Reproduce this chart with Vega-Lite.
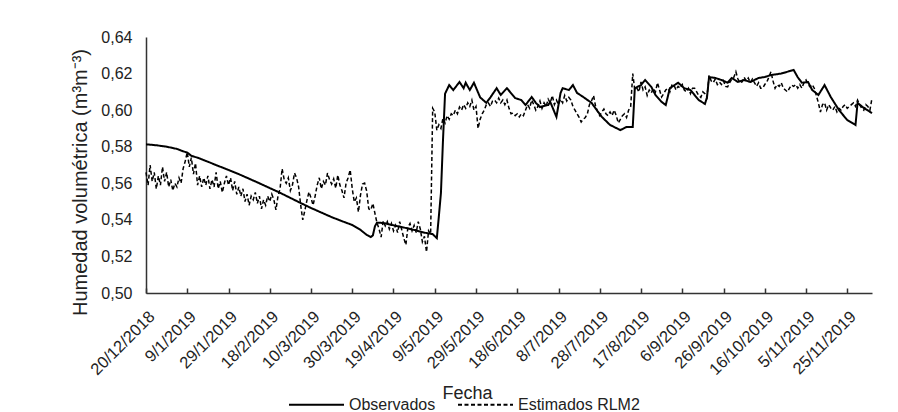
{
  "$schema": "https://vega.github.io/schema/vega-lite/v6.json",
  "width": 726,
  "height": 256,
  "autosize": {"type": "none"},
  "padding": {"left": 146, "top": 37, "right": 26, "bottom": 119},
  "background": "white",
  "config": {"view": {"stroke": null}, "font": "Liberation Sans", "axis": {"labelColor": "#222222", "titleColor": "#222222"}, "legend": {"labelColor": "#222222"}},
  "datasets": {
    "obs": [
      {"date":"2018-12-20","value":0.5813},{"date":"2018-12-25","value":0.5808},{"date":"2018-12-30","value":0.5800},
      {"date":"2019-01-04","value":0.5788},{"date":"2019-01-07","value":0.5775},{"date":"2019-01-09","value":0.5768},
      {"date":"2019-01-11","value":0.5750},{"date":"2019-01-14","value":0.5740},{"date":"2019-01-19","value":0.5718},
      {"date":"2019-01-24","value":0.5695},{"date":"2019-01-29","value":0.5673},{"date":"2019-02-03","value":0.5650},
      {"date":"2019-02-08","value":0.5625},{"date":"2019-02-13","value":0.5600},{"date":"2019-02-18","value":0.5574},
      {"date":"2019-02-23","value":0.5548},{"date":"2019-02-28","value":0.5520},{"date":"2019-03-05","value":0.5492},
      {"date":"2019-03-10","value":0.5465},{"date":"2019-03-15","value":0.5440},{"date":"2019-03-20","value":0.5415},
      {"date":"2019-03-25","value":0.5393},{"date":"2019-03-30","value":0.5372},{"date":"2019-04-03","value":0.5345},
      {"date":"2019-04-06","value":0.5318},{"date":"2019-04-08","value":0.5306},{"date":"2019-04-09","value":0.5315},
      {"date":"2019-04-10","value":0.5365},{"date":"2019-04-11","value":0.5385},{"date":"2019-04-14","value":0.5383},
      {"date":"2019-04-19","value":0.5370},{"date":"2019-04-24","value":0.5358},{"date":"2019-04-29","value":0.5345},
      {"date":"2019-05-04","value":0.5330},{"date":"2019-05-08","value":0.5322},{"date":"2019-05-10","value":0.5300},
      {"date":"2019-05-11","value":0.5420},{"date":"2019-05-12","value":0.5547},{"date":"2019-05-13","value":0.5837},
      {"date":"2019-05-14","value":0.6090},{"date":"2019-05-16","value":0.6137},{"date":"2019-05-18","value":0.6110},
      {"date":"2019-05-21","value":0.6154},{"date":"2019-05-23","value":0.6120},{"date":"2019-05-24","value":0.6150},
      {"date":"2019-05-26","value":0.6110},{"date":"2019-05-28","value":0.6150},{"date":"2019-05-31","value":0.6070},
      {"date":"2019-06-03","value":0.6040},{"date":"2019-06-05","value":0.6070},{"date":"2019-06-08","value":0.6120},
      {"date":"2019-06-10","value":0.6083},{"date":"2019-06-13","value":0.6120},{"date":"2019-06-17","value":0.6066},
      {"date":"2019-06-20","value":0.6055},{"date":"2019-06-22","value":0.6028},{"date":"2019-06-25","value":0.6072},
      {"date":"2019-06-27","value":0.6040},{"date":"2019-06-29","value":0.6017},{"date":"2019-07-03","value":0.6028},
      {"date":"2019-07-04","value":0.6045},{"date":"2019-07-07","value":0.5963},{"date":"2019-07-09","value":0.6094},
      {"date":"2019-07-10","value":0.6120},{"date":"2019-07-13","value":0.6110},{"date":"2019-07-15","value":0.6137},
      {"date":"2019-07-17","value":0.6094},{"date":"2019-07-20","value":0.6072},{"date":"2019-07-24","value":0.6040},
      {"date":"2019-07-29","value":0.5963},{"date":"2019-08-02","value":0.5919},{"date":"2019-08-07","value":0.5891},
      {"date":"2019-08-10","value":0.5908},{"date":"2019-08-13","value":0.5908},{"date":"2019-08-14","value":0.6120},
      {"date":"2019-08-17","value":0.6137},{"date":"2019-08-19","value":0.6165},{"date":"2019-08-22","value":0.6127},
      {"date":"2019-08-24","value":0.6083},{"date":"2019-08-27","value":0.6045},{"date":"2019-08-29","value":0.6028},
      {"date":"2019-08-31","value":0.6120},{"date":"2019-09-04","value":0.6150},{"date":"2019-09-07","value":0.6120},
      {"date":"2019-09-10","value":0.6110},{"date":"2019-09-14","value":0.6055},{"date":"2019-09-17","value":0.6034},
      {"date":"2019-09-18","value":0.6070},{"date":"2019-09-19","value":0.6181},{"date":"2019-09-22","value":0.6176},
      {"date":"2019-09-25","value":0.6165},{"date":"2019-09-28","value":0.6150},{"date":"2019-09-30","value":0.6176},
      {"date":"2019-10-03","value":0.6154},{"date":"2019-10-06","value":0.6165},{"date":"2019-10-09","value":0.6154},
      {"date":"2019-10-13","value":0.6176},{"date":"2019-10-16","value":0.6181},{"date":"2019-10-19","value":0.6192},
      {"date":"2019-10-24","value":0.6200},{"date":"2019-10-30","value":0.6220},{"date":"2019-11-01","value":0.6180},
      {"date":"2019-11-03","value":0.6150},{"date":"2019-11-06","value":0.6154},{"date":"2019-11-08","value":0.6110},
      {"date":"2019-11-11","value":0.6083},{"date":"2019-11-14","value":0.6137},{"date":"2019-11-17","value":0.6072},
      {"date":"2019-11-21","value":0.6000},{"date":"2019-11-25","value":0.5946},{"date":"2019-11-29","value":0.5919},
      {"date":"2019-11-30","value":0.6040},{"date":"2019-12-03","value":0.6012},{"date":"2019-12-07","value":0.5984}
    ],
    "est": [
      {"date":"2018-12-20","value":0.566},{"date":"2018-12-21","value":0.559},{"date":"2018-12-22","value":0.570},{"date":"2018-12-23","value":0.561},{"date":"2018-12-24","value":0.566},{"date":"2018-12-25","value":0.557},{"date":"2018-12-26","value":0.564},{"date":"2018-12-27","value":0.559},{"date":"2018-12-28","value":0.569},{"date":"2018-12-29","value":0.561},{"date":"2018-12-30","value":0.566},{"date":"2018-12-31","value":0.558},
      {"date":"2019-01-01","value":0.562},{"date":"2019-01-02","value":0.556},{"date":"2019-01-03","value":0.560},{"date":"2019-01-04","value":0.558},{"date":"2019-01-05","value":0.563},{"date":"2019-01-06","value":0.560},{"date":"2019-01-07","value":0.568},{"date":"2019-01-08","value":0.572},{"date":"2019-01-09","value":0.577},{"date":"2019-01-10","value":0.569},{"date":"2019-01-11","value":0.574},{"date":"2019-01-12","value":0.565},{"date":"2019-01-13","value":0.571},{"date":"2019-01-14","value":0.559},{"date":"2019-01-15","value":0.564},{"date":"2019-01-16","value":0.558},{"date":"2019-01-17","value":0.563},{"date":"2019-01-18","value":0.559},{"date":"2019-01-19","value":0.564},{"date":"2019-01-20","value":0.557},{"date":"2019-01-21","value":0.562},{"date":"2019-01-22","value":0.558},{"date":"2019-01-23","value":0.566},{"date":"2019-01-24","value":0.557},{"date":"2019-01-25","value":0.561},{"date":"2019-01-26","value":0.555},{"date":"2019-01-27","value":0.560},{"date":"2019-01-28","value":0.564},{"date":"2019-01-29","value":0.559},{"date":"2019-01-30","value":0.563},{"date":"2019-01-31","value":0.556},
      {"date":"2019-02-01","value":0.561},{"date":"2019-02-02","value":0.554},{"date":"2019-02-03","value":0.558},{"date":"2019-02-04","value":0.553},{"date":"2019-02-05","value":0.557},{"date":"2019-02-06","value":0.550},{"date":"2019-02-07","value":0.554},{"date":"2019-02-08","value":0.548},{"date":"2019-02-09","value":0.553},{"date":"2019-02-10","value":0.551},{"date":"2019-02-11","value":0.555},{"date":"2019-02-12","value":0.549},{"date":"2019-02-13","value":0.553},{"date":"2019-02-14","value":0.546},{"date":"2019-02-15","value":0.551},{"date":"2019-02-16","value":0.548},{"date":"2019-02-17","value":0.553},{"date":"2019-02-18","value":0.550},{"date":"2019-02-19","value":0.554},{"date":"2019-02-20","value":0.551},{"date":"2019-02-21","value":0.5455},{"date":"2019-02-22","value":0.553},{"date":"2019-02-23","value":0.557},{"date":"2019-02-24","value":0.568},{"date":"2019-02-25","value":0.562},{"date":"2019-02-26","value":0.560},{"date":"2019-02-27","value":0.563},{"date":"2019-02-28","value":0.556},
      {"date":"2019-03-01","value":0.559},{"date":"2019-03-02","value":0.5656},{"date":"2019-03-03","value":0.563},{"date":"2019-03-04","value":0.558},{"date":"2019-03-05","value":0.548},{"date":"2019-03-06","value":0.540},{"date":"2019-03-07","value":0.545},{"date":"2019-03-08","value":0.5505},{"date":"2019-03-09","value":0.5552},{"date":"2019-03-10","value":0.552},{"date":"2019-03-11","value":0.548},{"date":"2019-03-12","value":0.553},{"date":"2019-03-13","value":0.559},{"date":"2019-03-14","value":0.563},{"date":"2019-03-15","value":0.557},{"date":"2019-03-16","value":0.561},{"date":"2019-03-17","value":0.559},{"date":"2019-03-18","value":0.5656},{"date":"2019-03-19","value":0.562},{"date":"2019-03-20","value":0.5596},{"date":"2019-03-21","value":0.5624},{"date":"2019-03-22","value":0.5573},{"date":"2019-03-23","value":0.5645},{"date":"2019-03-24","value":0.559},{"date":"2019-03-25","value":0.556},{"date":"2019-03-26","value":0.552},{"date":"2019-03-27","value":0.560},{"date":"2019-03-28","value":0.563},{"date":"2019-03-29","value":0.5673},{"date":"2019-03-30","value":0.557},{"date":"2019-03-31","value":0.5498},
      {"date":"2019-04-01","value":0.552},{"date":"2019-04-02","value":0.5443},{"date":"2019-04-03","value":0.5536},{"date":"2019-04-04","value":0.5596},{"date":"2019-04-05","value":0.5601},{"date":"2019-04-06","value":0.5557},{"date":"2019-04-07","value":0.546},{"date":"2019-04-08","value":0.5454},{"date":"2019-04-09","value":0.549},{"date":"2019-04-10","value":0.5435},{"date":"2019-04-11","value":0.5383},{"date":"2019-04-12","value":0.535},{"date":"2019-04-13","value":0.5306},{"date":"2019-04-14","value":0.5394},{"date":"2019-04-15","value":0.5367},{"date":"2019-04-16","value":0.539},{"date":"2019-04-17","value":0.535},{"date":"2019-04-18","value":0.538},{"date":"2019-04-19","value":0.534},{"date":"2019-04-20","value":0.537},{"date":"2019-04-21","value":0.533},{"date":"2019-04-22","value":0.539},{"date":"2019-04-23","value":0.5345},{"date":"2019-04-24","value":0.530},{"date":"2019-04-25","value":0.5263},{"date":"2019-04-26","value":0.536},{"date":"2019-04-27","value":0.538},{"date":"2019-04-28","value":0.534},{"date":"2019-04-29","value":0.537},{"date":"2019-04-30","value":0.533},
      {"date":"2019-05-01","value":0.539},{"date":"2019-05-02","value":0.535},{"date":"2019-05-03","value":0.528},{"date":"2019-05-04","value":0.531},{"date":"2019-05-05","value":0.5224},{"date":"2019-05-06","value":0.534},{"date":"2019-05-07","value":0.532},{"date":"2019-05-08","value":0.601},{"date":"2019-05-09","value":0.599},{"date":"2019-05-10","value":0.589},{"date":"2019-05-11","value":0.592},{"date":"2019-05-12","value":0.590},{"date":"2019-05-13","value":0.5957},{"date":"2019-05-14","value":0.593},{"date":"2019-05-15","value":0.597},{"date":"2019-05-16","value":0.595},{"date":"2019-05-17","value":0.598},{"date":"2019-05-18","value":0.597},{"date":"2019-05-19","value":0.600},{"date":"2019-05-20","value":0.598},{"date":"2019-05-21","value":0.6017},{"date":"2019-05-22","value":0.600},{"date":"2019-05-23","value":0.603},{"date":"2019-05-24","value":0.601},{"date":"2019-05-25","value":0.604},{"date":"2019-05-26","value":0.602},{"date":"2019-05-27","value":0.6055},{"date":"2019-05-28","value":0.600},{"date":"2019-05-29","value":0.602},{"date":"2019-05-30","value":0.590},{"date":"2019-05-31","value":0.595},
      {"date":"2019-06-01","value":0.598},{"date":"2019-06-02","value":0.600},{"date":"2019-06-03","value":0.603},{"date":"2019-06-04","value":0.604},{"date":"2019-06-05","value":0.602},{"date":"2019-06-06","value":0.605},{"date":"2019-06-07","value":0.6055},{"date":"2019-06-08","value":0.604},{"date":"2019-06-09","value":0.6066},{"date":"2019-06-10","value":0.604},{"date":"2019-06-11","value":0.6055},{"date":"2019-06-12","value":0.603},{"date":"2019-06-13","value":0.6055},{"date":"2019-06-14","value":0.601},{"date":"2019-06-15","value":0.598},{"date":"2019-06-16","value":0.5984},{"date":"2019-06-17","value":0.597},{"date":"2019-06-18","value":0.598},{"date":"2019-06-19","value":0.5963},{"date":"2019-06-20","value":0.598},{"date":"2019-06-21","value":0.597},{"date":"2019-06-22","value":0.600},{"date":"2019-06-23","value":0.603},{"date":"2019-06-24","value":0.601},{"date":"2019-06-25","value":0.6055},{"date":"2019-06-26","value":0.603},{"date":"2019-06-27","value":0.600},{"date":"2019-06-28","value":0.602},{"date":"2019-06-29","value":0.605},{"date":"2019-06-30","value":0.601},
      {"date":"2019-07-01","value":0.604},{"date":"2019-07-02","value":0.602},{"date":"2019-07-03","value":0.606},{"date":"2019-07-04","value":0.604},{"date":"2019-07-05","value":0.608},{"date":"2019-07-06","value":0.603},{"date":"2019-07-07","value":0.6055},{"date":"2019-07-08","value":0.603},{"date":"2019-07-09","value":0.606},{"date":"2019-07-10","value":0.604},{"date":"2019-07-11","value":0.608},{"date":"2019-07-12","value":0.605},{"date":"2019-07-13","value":0.607},{"date":"2019-07-14","value":0.6055},{"date":"2019-07-15","value":0.602},{"date":"2019-07-16","value":0.600},{"date":"2019-07-17","value":0.598},{"date":"2019-07-18","value":0.596},{"date":"2019-07-19","value":0.5935},{"date":"2019-07-20","value":0.595},{"date":"2019-07-21","value":0.596},{"date":"2019-07-22","value":0.598},{"date":"2019-07-23","value":0.603},{"date":"2019-07-24","value":0.605},{"date":"2019-07-25","value":0.608},{"date":"2019-07-26","value":0.602},{"date":"2019-07-27","value":0.599},{"date":"2019-07-28","value":0.597},{"date":"2019-07-29","value":0.599},{"date":"2019-07-30","value":0.6006},{"date":"2019-07-31","value":0.598},
      {"date":"2019-08-01","value":0.597},{"date":"2019-08-02","value":0.599},{"date":"2019-08-03","value":0.597},{"date":"2019-08-04","value":0.600},{"date":"2019-08-05","value":0.597},{"date":"2019-08-06","value":0.593},{"date":"2019-08-07","value":0.595},{"date":"2019-08-08","value":0.597},{"date":"2019-08-09","value":0.598},{"date":"2019-08-10","value":0.596},{"date":"2019-08-11","value":0.600},{"date":"2019-08-12","value":0.602},{"date":"2019-08-13","value":0.620},{"date":"2019-08-14","value":0.611},{"date":"2019-08-15","value":0.612},{"date":"2019-08-16","value":0.610},{"date":"2019-08-17","value":0.6154},{"date":"2019-08-18","value":0.611},{"date":"2019-08-19","value":0.6127},{"date":"2019-08-20","value":0.608},{"date":"2019-08-21","value":0.611},{"date":"2019-08-22","value":0.6094},{"date":"2019-08-23","value":0.612},{"date":"2019-08-24","value":0.610},{"date":"2019-08-25","value":0.615},{"date":"2019-08-26","value":0.611},{"date":"2019-08-27","value":0.6072},{"date":"2019-08-28","value":0.609},{"date":"2019-08-29","value":0.611},{"date":"2019-08-30","value":0.612},{"date":"2019-08-31","value":0.610},
      {"date":"2019-09-01","value":0.6137},{"date":"2019-09-02","value":0.6137},{"date":"2019-09-03","value":0.611},{"date":"2019-09-04","value":0.613},{"date":"2019-09-05","value":0.612},{"date":"2019-09-06","value":0.614},{"date":"2019-09-07","value":0.611},{"date":"2019-09-08","value":0.610},{"date":"2019-09-09","value":0.612},{"date":"2019-09-10","value":0.609},{"date":"2019-09-11","value":0.612},{"date":"2019-09-12","value":0.612},{"date":"2019-09-13","value":0.610},{"date":"2019-09-14","value":0.608},{"date":"2019-09-15","value":0.607},{"date":"2019-09-16","value":0.610},{"date":"2019-09-17","value":0.609},{"date":"2019-09-18","value":0.607},{"date":"2019-09-19","value":0.619},{"date":"2019-09-20","value":0.616},{"date":"2019-09-21","value":0.615},{"date":"2019-09-22","value":0.617},{"date":"2019-09-23","value":0.614},{"date":"2019-09-24","value":0.6154},{"date":"2019-09-25","value":0.614},{"date":"2019-09-26","value":0.616},{"date":"2019-09-27","value":0.613},{"date":"2019-09-28","value":0.6127},{"date":"2019-09-29","value":0.615},{"date":"2019-09-30","value":0.617},
      {"date":"2019-10-01","value":0.618},{"date":"2019-10-02","value":0.621},{"date":"2019-10-03","value":0.617},{"date":"2019-10-04","value":0.615},{"date":"2019-10-05","value":0.6154},{"date":"2019-10-06","value":0.618},{"date":"2019-10-07","value":0.616},{"date":"2019-10-08","value":0.6176},{"date":"2019-10-09","value":0.615},{"date":"2019-10-10","value":0.617},{"date":"2019-10-11","value":0.615},{"date":"2019-10-12","value":0.613},{"date":"2019-10-13","value":0.615},{"date":"2019-10-14","value":0.612},{"date":"2019-10-15","value":0.612},{"date":"2019-10-16","value":0.614},{"date":"2019-10-17","value":0.6154},{"date":"2019-10-18","value":0.618},{"date":"2019-10-19","value":0.621},{"date":"2019-10-20","value":0.616},{"date":"2019-10-21","value":0.612},{"date":"2019-10-22","value":0.614},{"date":"2019-10-23","value":0.613},{"date":"2019-10-24","value":0.615},{"date":"2019-10-25","value":0.612},{"date":"2019-10-26","value":0.611},{"date":"2019-10-27","value":0.610},{"date":"2019-10-28","value":0.612},{"date":"2019-10-29","value":0.6137},{"date":"2019-10-30","value":0.613},{"date":"2019-10-31","value":0.614},
      {"date":"2019-11-01","value":0.612},{"date":"2019-11-02","value":0.614},{"date":"2019-11-03","value":0.612},{"date":"2019-11-04","value":0.615},{"date":"2019-11-05","value":0.6165},{"date":"2019-11-06","value":0.614},{"date":"2019-11-07","value":0.6127},{"date":"2019-11-08","value":0.614},{"date":"2019-11-09","value":0.612},{"date":"2019-11-10","value":0.608},{"date":"2019-11-11","value":0.604},{"date":"2019-11-12","value":0.599},{"date":"2019-11-13","value":0.603},{"date":"2019-11-14","value":0.604},{"date":"2019-11-15","value":0.600},{"date":"2019-11-16","value":0.603},{"date":"2019-11-17","value":0.6012},{"date":"2019-11-18","value":0.600},{"date":"2019-11-19","value":0.602},{"date":"2019-11-20","value":0.599},{"date":"2019-11-21","value":0.601},{"date":"2019-11-22","value":0.600},{"date":"2019-11-23","value":0.602},{"date":"2019-11-24","value":0.603},{"date":"2019-11-25","value":0.601},{"date":"2019-11-26","value":0.602},{"date":"2019-11-27","value":0.603},{"date":"2019-11-28","value":0.604},{"date":"2019-11-29","value":0.602},{"date":"2019-11-30","value":0.6055},
      {"date":"2019-12-01","value":0.603},{"date":"2019-12-02","value":0.601},{"date":"2019-12-03","value":0.600},{"date":"2019-12-04","value":0.603},{"date":"2019-12-05","value":0.602},{"date":"2019-12-06","value":0.600},{"date":"2019-12-07","value":0.6066}
    ]
  },
  "encoding": {
    "x": {
      "field": "date",
      "type": "temporal",
      "scale": {"type": "utc", "domain": [{"year": 2018, "month": 12, "date": 20, "utc": true}, {"year": 2019, "month": 12, "date": 7, "utc": true}]},
      "axis": {
        "values": [
          {"year": 2018, "month": 12, "date": 20, "utc": true},
          {"year": 2019, "month": 1, "date": 9, "utc": true},
          {"year": 2019, "month": 1, "date": 29, "utc": true},
          {"year": 2019, "month": 2, "date": 18, "utc": true},
          {"year": 2019, "month": 3, "date": 10, "utc": true},
          {"year": 2019, "month": 3, "date": 30, "utc": true},
          {"year": 2019, "month": 4, "date": 19, "utc": true},
          {"year": 2019, "month": 5, "date": 9, "utc": true},
          {"year": 2019, "month": 5, "date": 29, "utc": true},
          {"year": 2019, "month": 6, "date": 18, "utc": true},
          {"year": 2019, "month": 7, "date": 8, "utc": true},
          {"year": 2019, "month": 7, "date": 28, "utc": true},
          {"year": 2019, "month": 8, "date": 17, "utc": true},
          {"year": 2019, "month": 9, "date": 6, "utc": true},
          {"year": 2019, "month": 9, "date": 26, "utc": true},
          {"year": 2019, "month": 10, "date": 16, "utc": true},
          {"year": 2019, "month": 11, "date": 5, "utc": true},
          {"year": 2019, "month": 11, "date": 25, "utc": true}
        ],
        "labelExpr": "utcFormat(datum.value, '%-d/%-m/%Y')",
        "labelAngle": -45,
        "labelFontSize": 16.5,
        "labelPadding": 20,
        "labelOverlap": false,
        "labelFlush": false,
        "ticks": true,
        "tickSize": -5,
        "tickColor": "#333333",
        "tickWidth": 1.5,
        "domainColor": "#333333",
        "domainWidth": 1.5,
        "grid": false,
        "title": "Fecha",
        "titleFontSize": 18,
        "titleFontWeight": "normal",
        "titleX": 321,
        "titleY": 105,
        "titleBaseline": "alphabetic"
      }
    },
    "y": {
      "field": "value",
      "type": "quantitative",
      "scale": {"domain": [0.5, 0.64], "zero": false, "nice": false},
      "axis": {
        "values": [0.5, 0.52, 0.54, 0.56, 0.58, 0.6, 0.62, 0.64],
        "labelExpr": "replace(format(datum.value, '.2f'), '.', ',')",
        "labelFontSize": 16,
        "ticks": false,
        "tickSize": 0,
        "labelPadding": 14,
        "domainColor": "#333333",
        "domainWidth": 1.5,
        "grid": false,
        "title": "Humedad volumétrica (m³m⁻³)",
        "titleFontSize": 20,
        "titleFontWeight": "normal",
        "titlePadding": 10,
        "titleY": 145
      }
    }
  },
  "layer": [
    {
      "data": {"name": "est"},
      "mark": {"type": "line", "color": "black", "strokeWidth": 1.5},
      "encoding": {
        "strokeDash": {
          "datum": "Estimados RLM2",
          "type": "nominal",
          "scale": {"domain": ["Observados", "Estimados RLM2"], "range": [[1, 0], [4, 2.5]]},
          "legend": {
            "orient": "none",
            "legendX": 142,
            "legendY": 339,
            "direction": "horizontal",
            "title": null,
            "symbolType": "stroke",
            "symbolSize": 3025,
            "symbolStrokeWidth": 2,
            "symbolStrokeColor": "black",
            "labelFontSize": 16,
            "labelOffset": 4,
            "columnPadding": 18,
            "labelLimit": 300
          }
        }
      }
    },
    {
      "data": {"name": "obs"},
      "mark": {"type": "line", "color": "black", "strokeWidth": 2},
      "encoding": {
        "strokeDash": {"datum": "Observados", "type": "nominal"}
      }
    }
  ]
}
